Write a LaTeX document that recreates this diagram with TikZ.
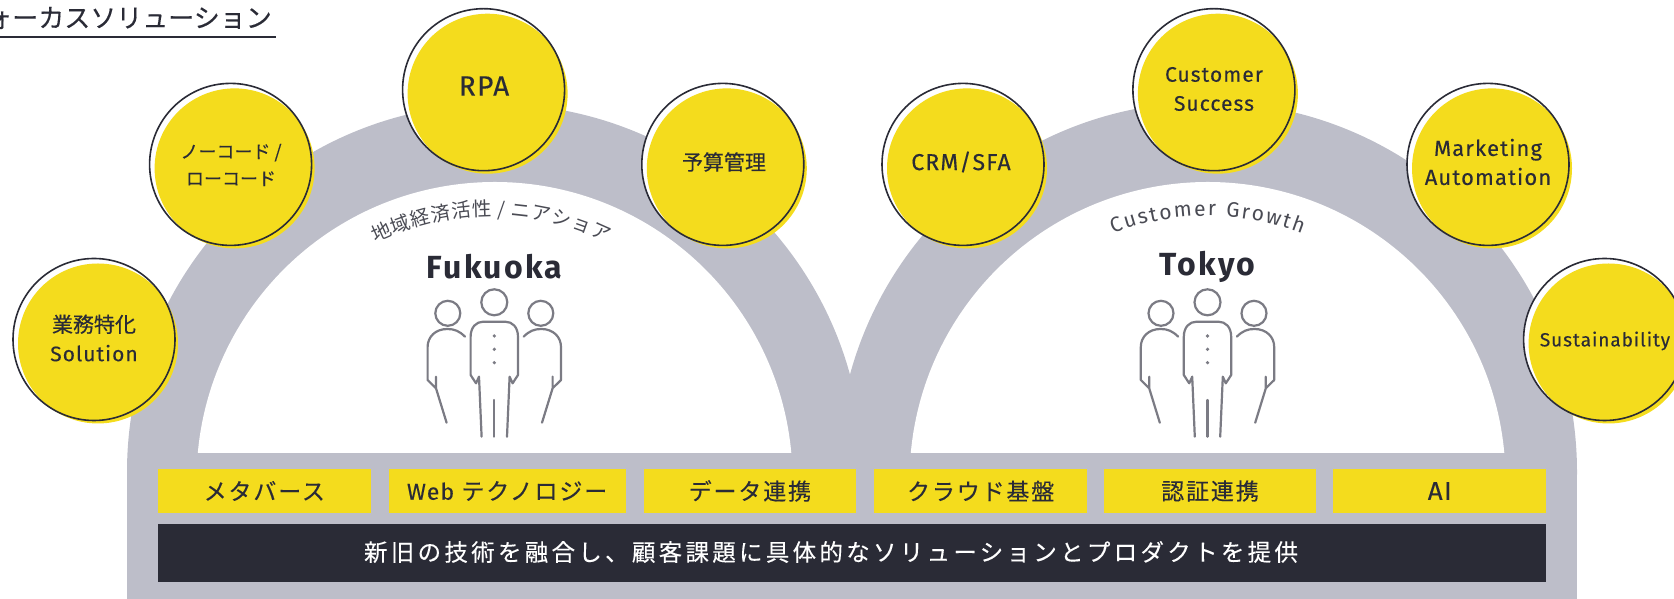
\documentclass[tikz,border=0pt]{standalone}
\usepackage{fontspec}
\setmainfont[LetterSpace=5, UprightFeatures={FakeBold=0.25}, BoldFeatures={LetterSpace=7}]{Fira Sans}
\newfontfamily\jpfont[FakeBold=0.3]{Noto Sans CJK JP}
\newfontfamily\jpthin{Noto Sans CJK JP}
\newfontfamily\lightfont[LetterSpace=2]{Fira Sans}
\newfontfamily\jpwide[LetterSpace=8, FakeBold=0.3]{Noto Sans CJK JP}
\newfontfamily\jpbase[LetterSpace=14, FakeBold=0.2]{Noto Sans CJK JP}
\usetikzlibrary{decorations.text}
\definecolor{custom_yellow}{HTML}{f4dc1d}
\definecolor{custom_gray}{HTML}{bdbec9}
\definecolor{custom_ink}{HTML}{2a2b36}
\definecolor{custom_line}{HTML}{7b7b84}
\tikzset{
  solcircle/.style={circle, draw=custom_ink, line width=1.6pt, minimum size=#1, inner sep=0pt},
  sollabel/.style={text=custom_ink, align=center, inner sep=0pt, font=\fontsize{21}{29}\selectfont},
  techbar/.style={fill=custom_yellow, text=custom_ink, minimum height=44pt, inner sep=0pt, font=\fontsize{23}{26}\selectfont},
  cityname/.style={text=custom_ink, inner sep=0pt, font=\fontsize{32}{34}\selectfont\bfseries},
  iconline/.style={draw=custom_line, line width=2.2pt, line cap=round, line join=round}
}

\begin{document}
\begin{tikzpicture}[x=1pt, y=1pt]

  \useasboundingbox (0,0) rectangle (1674,599);
  \clip (0,0) rectangle (1674,599);

  % grey arches and the base below them
  \fill[custom_gray] (127,0) rectangle (1577,127);
  \fill[custom_gray] (495,127) circle (368);
  \fill[custom_gray] (1207,127) circle (370);

  \fill[white] (791.3,146) arc[start angle=5.2, end angle=174.8, radius=298] -- cycle;
  \fill[white] (1504.3,146) arc[start angle=5.2, end angle=174.8, radius=298] -- cycle;

  % title
  \node[anchor=east, text=custom_ink, inner sep=0pt, font=\jpfont\fontsize{26}{28}\selectfont] (title) at (272,581) {ォーカスソリューション};
  \coordinate (ruleleft) at (0,562);
  \coordinate (ruleright) at (276,562);
  \draw[custom_ink, line width=2.2pt] (ruleleft) -- (ruleright);

  % curved captions
  \path[decorate, decoration={text along path, text align=fit to path,
    text={|\jpthin\fontsize{19.5}{20}\selectfont\color{custom_ink!85}|地域経済活性 / ニアショア}}]
    ([shift={(116:264)}]491,119) arc[start angle=116, end angle=64, radius=264];
  \path[decorate, decoration={text along path, text align=fit to path,
    text={|\lightfont\fontsize{21}{22}\selectfont\color{custom_ink!85}|Customer Growth}}]
    ([shift={(111:264)}]1207.5,119) arc[start angle=111, end angle=69, radius=264];

  \node[cityname] (fukuoka) at (494.5,332) {Fukuoka};
  \node[cityname] (tokyo) at (1207.5,332) {Tokyo};

  % three people, same drawing under both names
  \foreach \iconx in {494.3,1207.5} {
    \begin{scope}[shift={(\iconx,0)}]
      \draw[iconline] (0,296.7) circle (13);
      \draw[iconline] (-12.7,162.3) -- (-15.3,222.3) -- (-18.3,215.7) -- (-23.7,224) -- (-23.7,262)
        .. controls (-23.7,272) and (-18,277.3) .. (-11,277.3) -- (11,277.3)
        .. controls (18,277.3) and (23.7,272) .. (23.7,262) -- (23.7,224) -- (18.3,215.7) -- (15.3,222.3) -- (12.7,162.3);
      \draw[iconline] (0,162.3) -- (0,199);
      \foreach \doty in {263,249.7,236.3} {
        \fill[custom_line] (0,\doty) circle (1.8);
      }
      \foreach \side in {1,-1} {
        \begin{scope}[xscale=\side]
          \draw[iconline] (-46.5,285.7) circle (12.5);
          \draw[iconline] (-29.3,262.3) .. controls (-35,268) and (-40,270) .. (-47,270)
            .. controls (-59,270) and (-66.7,262) .. (-66.7,252) -- (-66.7,219) -- (-58.3,210.7) -- (-58.3,222.3) -- (-58.3,210.7) -- (-47.7,176.3);
        \end{scope}
      }
    \end{scope}
  }

  % solution circles
  \foreach \cname/\cx/\cy in {gyomu/94/259.5, nocode/230.6/434.6, rpa/483.6/509.3, yosan/722.8/434.6,
      crm/963/434.6, success/1213.9/509.3, marketing/1488/434.6, sustain/1604.6/259.5} {
    \fill[white] (\cx,\cy) circle (81);
    \fill[custom_yellow] (\cx+4,\cy-4) circle (80);
    \node[solcircle=162pt] (\cname) at (\cx,\cy) {};
  }

  \node[sollabel] (gyomulabel) at (94,261) {\jpfont 業務特化\\Solution};
  \node[sollabel, font=\fontsize{18}{27}\selectfont] (nocodelabel) at (231,434) {\jpfont ノーコード /\\\jpfont ローコード};
  \node[sollabel, font=\fontsize{28}{30}\selectfont] (rpalabel) at (484,513) {RPA};
  \node[sollabel] (yosanlabel) at (724,437) {\jpfont 予算管理};
  \node[sollabel, font=\fontsize{23}{26}\selectfont] (crmlabel) at (961,437) {CRM/SFA};
  \node[sollabel] (successlabel) at (1214,510) {Customer\\Success};
  \node[sollabel, font=\fontsize{22}{29}\selectfont] (marketinglabel) at (1488,437) {Marketing\\Automation};
  \node[sollabel, font=\fontsize{19}{22}\selectfont] (sustainlabel) at (1605,258) {Sustainability};

  % technology bars
  \foreach \bname/\bx/\bw/\btext in {meta/264.3/212.5/{\jpwide メタバース}, web/507.1/237/{Web \jpwide テクノロジー},
      data/749.9/212.5/{\jpwide データ連携}, cloud/980.7/212.5/{\jpwide クラウド基盤},
      auth/1210/212.5/{\jpwide 認証連携}, ai/1439.7/212.5/{\fontsize{26}{26}\selectfont AI}} {
    \node[techbar, minimum width=\bw] (\bname) at (\bx,108) {\btext};
  }

  \node[fill=custom_ink, minimum width=1388pt, minimum height=58pt, inner sep=0pt] (basebar) at (852,46) {};
  \node[text=white, inner sep=0pt, font=\jpbase\fontsize{23.5}{26}\selectfont] (basetext) at (831,47) {新旧の技術を融合し、顧客課題に具体的なソリューションとプロダクトを提供};

\end{tikzpicture}
\end{document}
